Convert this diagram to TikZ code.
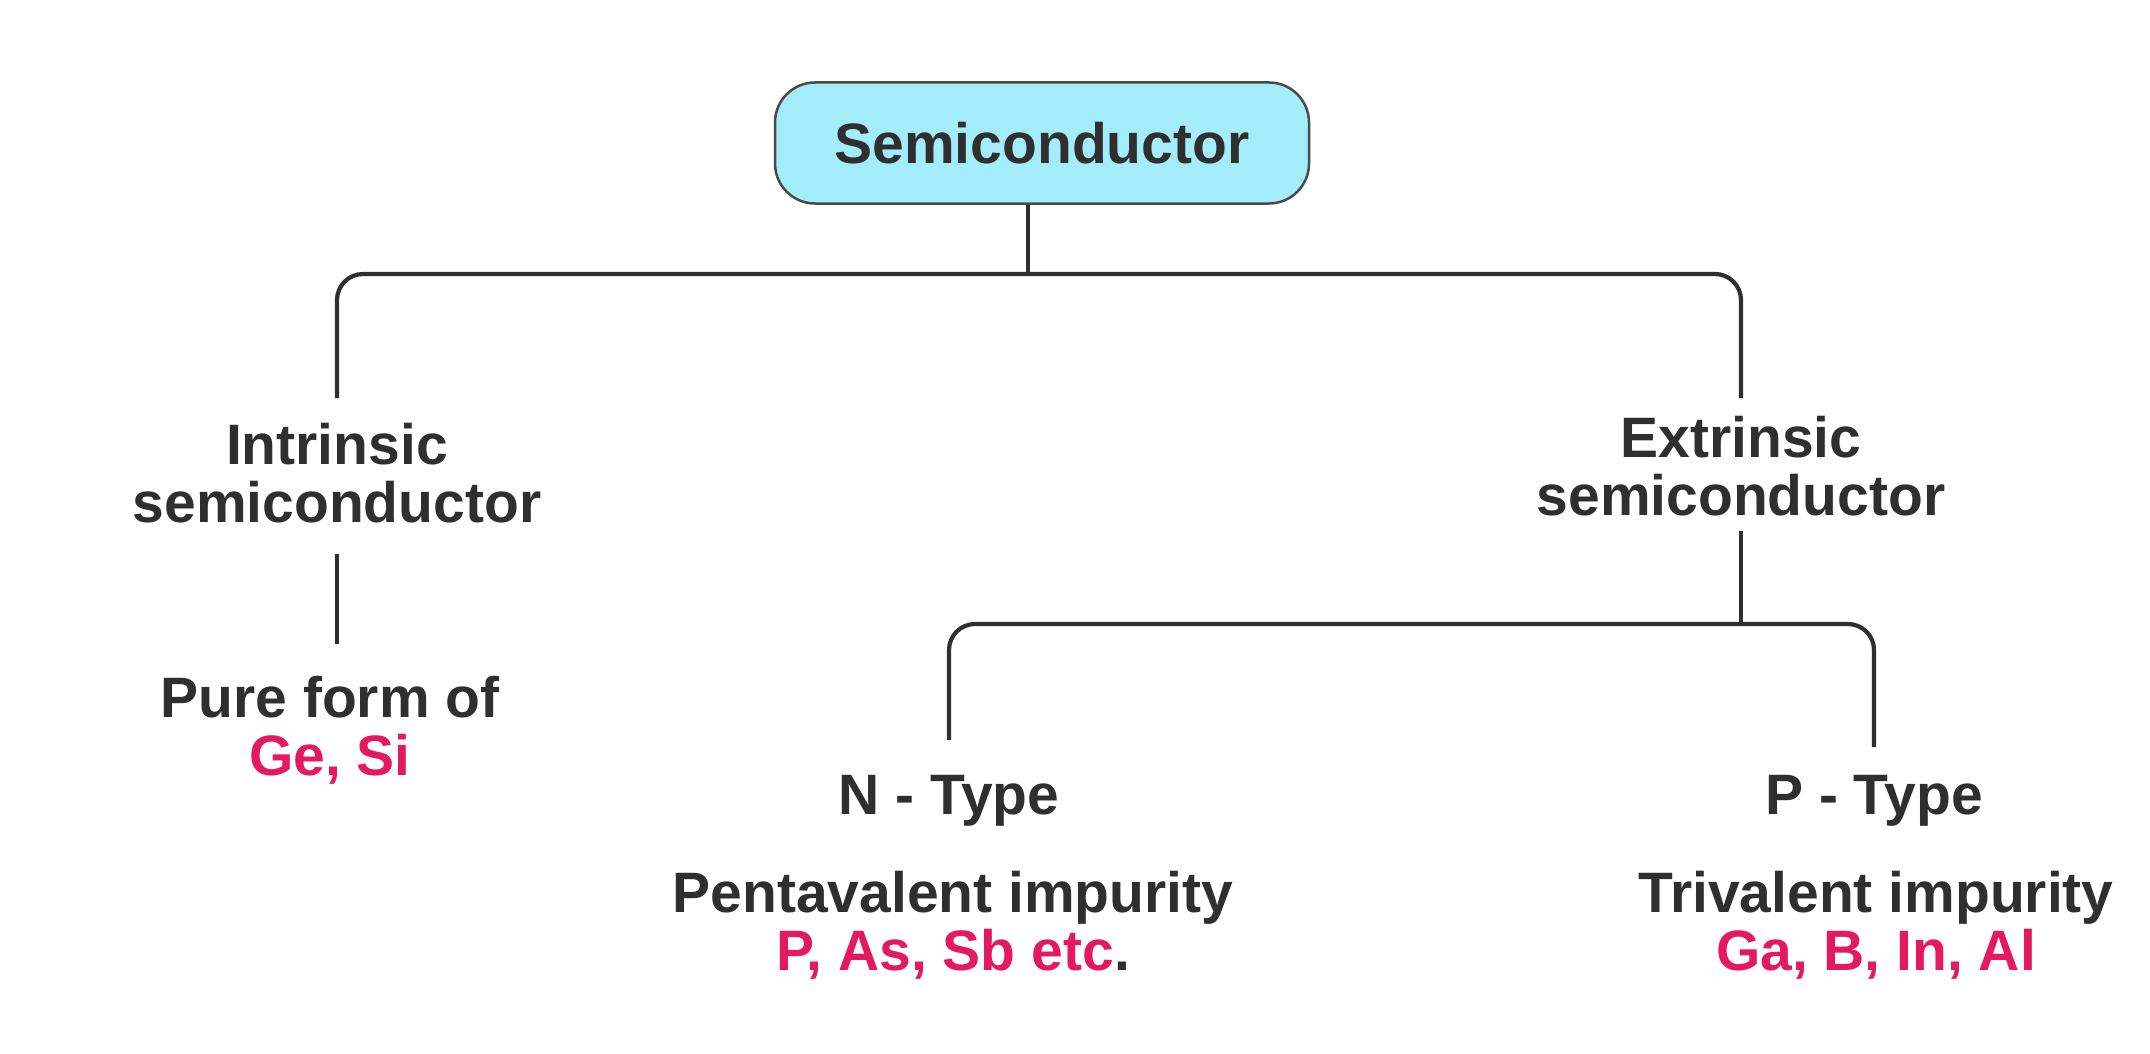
\documentclass[tikz,border=0pt]{standalone}
\usepackage{fontspec}
\usetikzlibrary{calc}
\setmainfont{Liberation Sans}
\definecolor{txt}{HTML}{2F2F2F}
\definecolor{hl}{HTML}{E5195E}
\definecolor{boxfill}{HTML}{A3EDFB}
\definecolor{boxline}{HTML}{4A4A4A}
\tikzset{
  lbl/.style={inner sep=0pt, align=center, anchor=north, text=txt,
    font=\fontsize{57}{58}\selectfont\bfseries},
  rootbox/.style={draw=boxline, line width=2.5pt, fill=boxfill, rounded corners=40pt,
    minimum width=534pt, minimum height=121pt, inner sep=0pt, text=txt,
    font=\fontsize{57}{58}\selectfont\bfseries},
  conn/.style={draw=txt, line width=4.2pt},
  elbow/.style={conn, rounded corners=26pt}
}
\begin{document}
\begin{tikzpicture}[x=1pt,y=1pt]
\useasboundingbox (0,0) rectangle (2150,-1054);
\node[rootbox] (semi) at (1042,-143) {Semiconductor};
\node[lbl] (intr) at (337,-423) {Intrinsic\\semiconductor};
\node[lbl] (pure) at (330,-676) {Pure form of\\\textcolor{hl}{Ge, Si}};
\node[lbl] (extr) at (1741,-416) {Extrinsic\\semiconductor};
\node[lbl] (ntype) at (949,-775) {N - Type};
\node[lbl] (ptype) at (1874,-775) {P - Type};
\node[lbl] (penta) at (953,-871) {Pentavalent impurity\\\textcolor{hl}{P, As, Sb etc}.};
\node[lbl] (tri) at (1876,-871) {Trivalent impurity\\\textcolor{hl}{Ga, B, In, Al}};
\coordinate (hubA) at (1028,-274);
\coordinate (hubB) at (1741,-624);
\draw[conn] (semi.south -| hubA) -- (hubA);
\draw[elbow] ([yshift=25pt]intr.north) |- (hubA) -| ([yshift=18pt]extr.north);
\draw[conn] ([yshift=-31pt]intr.south) -- ($(intr.south |- pure.north)+(0,32)$);
\draw[conn] ([yshift=-15pt]extr.south) -- (hubB);
\draw[elbow] ([yshift=35pt]ntype.north) |- (hubB) -| ([yshift=28pt]ptype.north);
\end{tikzpicture}
\end{document}
